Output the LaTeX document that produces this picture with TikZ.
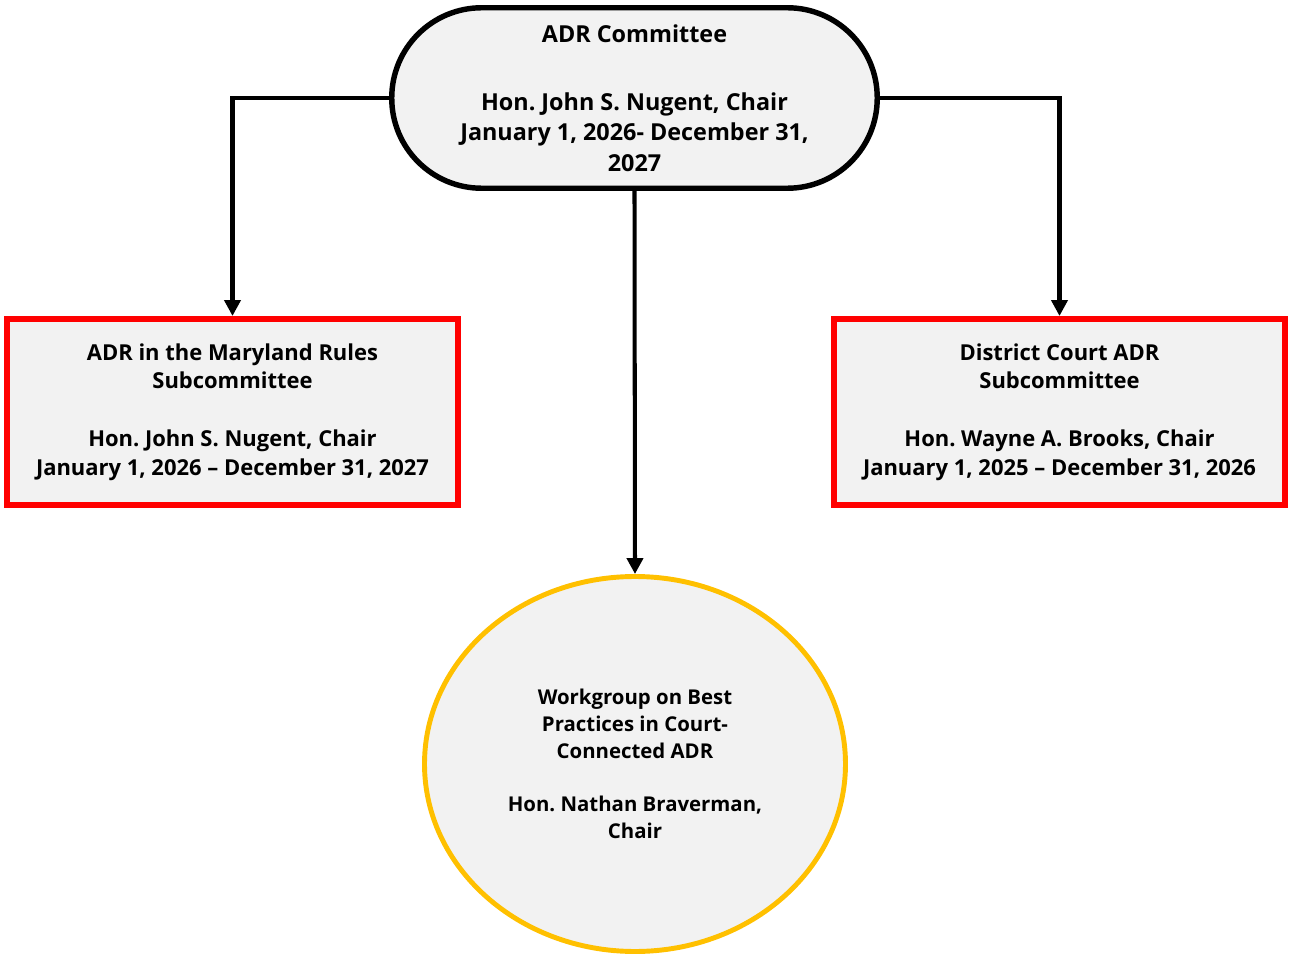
\documentclass[tikz,border=0pt]{standalone}
\usepackage{fontspec}
\setmainfont{Open Sans}
\usepackage{xcolor}
\usepackage{tikz}
\usetikzlibrary{arrows.meta,shapes.geometric}
\definecolor{boxgray}{HTML}{F2F2F2}
\definecolor{myred}{HTML}{FF0000}
\definecolor{myyellow}{HTML}{FFC000}
\frenchspacing
\tikzstyle{arrow} = [line width=2.3pt,-{Triangle[width=9pt,length=9pt]}]
\tikzstyle{chair} = [rectangle,draw=black,line width=3.1pt,fill=boxgray,rounded corners=1.8cm,minimum width=9.71cm,minimum height=3.61cm,align=center,font=\bfseries\fontsize{13.3}{17.3}\selectfont]
\tikzstyle{subbox} = [rectangle,draw=myred,line width=3.4pt,fill=boxgray,minimum width=9.02cm,minimum height=3.72cm,align=center,font=\bfseries\fontsize{12.5}{16.4}\selectfont]
\tikzstyle{group} = [ellipse,draw=myyellow,line width=2.8pt,fill=boxgray,inner sep=0pt,minimum width=8.42cm,minimum height=7.5cm,align=center,font=\bfseries\fontsize{11.6}{15.3}\selectfont]

\begin{document}
\begin{tikzpicture}
          \useasboundingbox (0,0) rectangle (25.82,-19.14);
          % committee
          \node[chair] (committee) at (12.69,-1.96) {ADR Committee\\[21.3pt]
            Hon. John S. Nugent, Chair\\ January 1, 2026- December 31,\\ 2027};

          % subcommittees
          \node[subbox] (rules) at (4.65,-8.24) {ADR in the Maryland Rules\\ Subcommittee\\[16.4pt]
            Hon. John S. Nugent, Chair\\ January 1, 2026 – December 31, 2027};
          \node[subbox] (district) at (21.19,-8.24) {District Court ADR\\ Subcommittee\\[16.4pt]
            Hon. Wayne A. Brooks, Chair\\ January 1, 2025 – December 31, 2026};

          % workgroup
          \node[group] (workgroup) at (12.70,-15.28) {Workgroup on Best\\ Practices in Court-\\ Connected ADR\\[15.3pt]
            Hon. Nathan Braverman,\\ Chair};

          % connectors
          \draw [arrow] (committee.west) -| (rules.north);
          \draw [arrow] (committee.east) -| (district.north);
          \draw [arrow] (committee.south) -- (workgroup.north);
      \end{tikzpicture}
\end{document}
